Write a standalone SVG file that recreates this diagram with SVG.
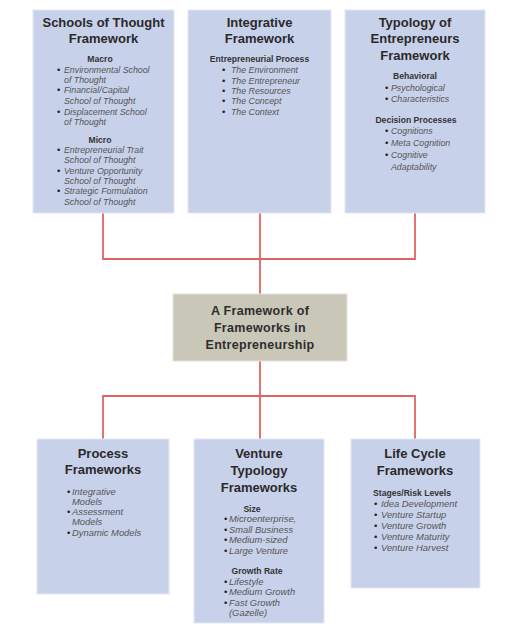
<svg xmlns="http://www.w3.org/2000/svg" width="523" height="629" viewBox="0 0 523 629">
<style>
.box{fill:#c8d1ea;stroke:#e3e7f3;stroke-width:1}
.core{fill:#c9c7b7;stroke:#e4e3da;stroke-width:1}
.t{font-family:"Liberation Sans",Arial,sans-serif;font-weight:bold;font-size:13px;fill:#2a2a2a;text-anchor:middle}
.c{font-family:"Liberation Sans",Arial,sans-serif;font-weight:bold;font-size:12.5px;fill:#2e2e2e;text-anchor:middle;letter-spacing:0.3px}
.h{font-family:"Liberation Sans",Arial,sans-serif;font-weight:bold;font-size:8.6px;fill:#333;text-anchor:middle}
.i{font-family:"Liberation Sans",Arial,sans-serif;font-style:italic;font-size:8.8px;fill:#555}
.j{font-family:"Liberation Sans",Arial,sans-serif;font-style:italic;font-size:9.4px;fill:#555}
.b{font-family:"Liberation Sans",Arial,sans-serif;font-size:9.5px;fill:#222}
.ln{stroke:#e06464;stroke-width:1.8;fill:none}
</style>
<rect width="523" height="629" fill="#ffffff"/>
<g id="connectors">
<path class="ln" d="M103,213 V259 H415 V213 M260,213 V294"/>
<path class="ln" d="M260,361 V396 M103,439 V396 H415 V439 M260,396 V439"/>
</g>
<g id="schools">
<rect class="box" x="33" y="10" width="141" height="203"/>
<text class="t" x="103.5" y="27">Schools of Thought</text>
<text class="t" x="103.5" y="43">Framework</text>
<text class="h" x="100" y="62">Macro</text>
<text class="b" x="57" y="73">•</text><text class="i" x="64" y="73">Environmental School</text>
<text class="i" x="64" y="83">of Thought</text>
<text class="b" x="57" y="93">•</text><text class="i" x="64" y="93">Financial/Capital</text>
<text class="i" x="64" y="104">School of Thought</text>
<text class="b" x="57" y="115">•</text><text class="i" x="64" y="115">Displacement School</text>
<text class="i" x="64" y="125">of Thought</text>
<text class="h" x="100" y="143">Micro</text>
<text class="b" x="57" y="153">•</text><text class="i" x="64" y="153">Entrepreneurial Trait</text>
<text class="i" x="64" y="163">School of Thought</text>
<text class="b" x="57" y="174">•</text><text class="i" x="64" y="174">Venture Opportunity</text>
<text class="i" x="64" y="184">School of Thought</text>
<text class="b" x="57" y="194">•</text><text class="i" x="64" y="194">Strategic Formulation</text>
<text class="i" x="64" y="205">School of Thought</text>
</g>
<g id="integrative">
<rect class="box" x="188" y="10" width="143" height="203"/>
<text class="t" x="259.5" y="27">Integrative</text>
<text class="t" x="259.5" y="43">Framework</text>
<text class="h" x="259.5" y="62">Entrepreneurial Process</text>
<text class="b" x="222" y="73">•</text><text class="i" x="231" y="73">The Environment</text>
<text class="b" x="222" y="84">•</text><text class="i" x="231" y="84">The Entrepreneur</text>
<text class="b" x="222" y="94">•</text><text class="i" x="231" y="94">The Resources</text>
<text class="b" x="222" y="104">•</text><text class="i" x="231" y="104">The Concept</text>
<text class="b" x="222" y="115">•</text><text class="i" x="231" y="115">The Context</text>
</g>
<g id="typology">
<rect class="box" x="345" y="10" width="140" height="203"/>
<text class="t" x="415" y="27">Typology of</text>
<text class="t" x="415" y="43">Entrepreneurs</text>
<text class="t" x="415" y="60">Framework</text>
<text class="h" x="415" y="79">Behavioral</text>
<text class="b" x="385" y="91">•</text><text class="i" x="391" y="91">Psychological</text>
<text class="b" x="385" y="102">•</text><text class="i" x="391" y="102">Characteristics</text>
<text class="h" x="416" y="123">Decision Processes</text>
<text class="b" x="385" y="134">•</text><text class="i" x="391" y="134">Cognitions</text>
<text class="b" x="385" y="146">•</text><text class="i" x="391" y="146">Meta Cognition</text>
<text class="b" x="385" y="158">•</text><text class="i" x="391" y="158">Cognitive</text>
<text class="i" x="391" y="170">Adaptability</text>
</g>
<g id="core">
<rect class="core" x="173" y="294" width="174" height="67"/>
<text class="c" x="260" y="315">A Framework of</text>
<text class="c" x="260" y="332">Frameworks in</text>
<text class="c" x="260" y="349">Entrepreneurship</text>
</g>
<g id="process">
<rect class="box" x="37" y="439" width="132" height="155"/>
<text class="t" x="103" y="458">Process</text>
<text class="t" x="103" y="474">Frameworks</text>
<text class="b" x="67" y="495">•</text><text class="j" x="72" y="495">Integrative</text>
<text class="j" x="72" y="505">Models</text>
<text class="b" x="67" y="515">•</text><text class="j" x="72" y="515">Assessment</text>
<text class="j" x="72" y="525">Models</text>
<text class="b" x="67" y="536">•</text><text class="j" x="72" y="536">Dynamic Models</text>
</g>
<g id="venture">
<rect class="box" x="194" y="439" width="130" height="184"/>
<text class="t" x="259" y="458">Venture</text>
<text class="t" x="259" y="475">Typology</text>
<text class="t" x="259" y="492">Frameworks</text>
<text class="h" x="252" y="512">Size</text>
<text class="b" x="224" y="522">•</text><text class="j" x="229" y="522">Microenterprise,</text>
<text class="b" x="224" y="533">•</text><text class="j" x="229" y="533">Small Business</text>
<text class="b" x="224" y="543">•</text><text class="j" x="229" y="543">Medium-sized</text>
<text class="b" x="224" y="554">•</text><text class="j" x="229" y="554">Large Venture</text>
<text class="h" x="257" y="574">Growth Rate</text>
<text class="b" x="224" y="585">•</text><text class="j" x="229" y="585">Lifestyle</text>
<text class="b" x="224" y="595">•</text><text class="j" x="229" y="595">Medium Growth</text>
<text class="b" x="224" y="606">•</text><text class="j" x="229" y="606">Fast Growth</text>
<text class="j" x="229" y="616">(Gazelle)</text>
</g>
<g id="lifecycle">
<rect class="box" x="351" y="439" width="129" height="149"/>
<text class="t" x="415" y="458">Life Cycle</text>
<text class="t" x="415" y="475">Frameworks</text>
<text class="h" x="412" y="496">Stages/Risk Levels</text>
<text class="b" x="374" y="507">•</text><text class="j" x="381" y="507">Idea Development</text>
<text class="b" x="374" y="518">•</text><text class="j" x="381" y="518">Venture Startup</text>
<text class="b" x="374" y="529">•</text><text class="j" x="381" y="529">Venture Growth</text>
<text class="b" x="374" y="540">•</text><text class="j" x="381" y="540">Venture Maturity</text>
<text class="b" x="374" y="551">•</text><text class="j" x="381" y="551">Venture Harvest</text>
</g>
</svg>
